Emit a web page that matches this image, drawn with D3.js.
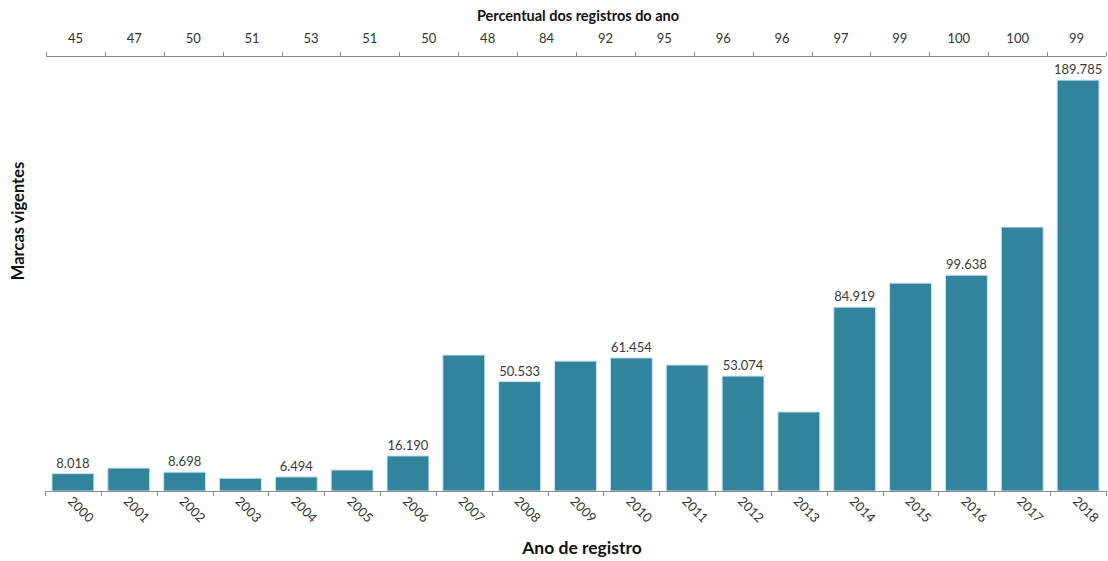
<!DOCTYPE html>
<html><head><meta charset="utf-8">
<script src="https://cdn.jsdelivr.net/npm/d3@7"></script>
<style>body{margin:0;background:#fff;} svg{display:block;font-family:Lato,"Open Sans",sans-serif;}</style>
</head><body>
<svg id="c" width="1108" height="561"></svg>
<script>
const years = ["2000","2001","2002","2003","2004","2005","2006","2007","2008","2009","2010","2011","2012","2013","2014","2015","2016","2017","2018"];
const marcas = [8018,10600,8698,5900,6494,9700,16190,62800,50533,60000,61454,58200,53074,36500,84919,96000,99638,121900,189785];
const labeled = [true,false,true,false,true,false,true,false,true,false,true,false,true,false,true,false,true,false,true];
const percentual = ["45","47","50","51","53","51","50","48","84","92","95","96","96","97","99","100","100","99"];

const svg = d3.select("#c");
const left = 45, right = 1106, base = 491, topY = 58;
const x = d3.scaleBand().domain(years).range([left, right]).paddingInner(0.25).paddingOuter(0.125);
const y = d3.scaleLinear().domain([0, 200000]).range([base, topY]);
const xt = d3.scaleBand().domain(d3.range(percentual.length)).range([46, 1106]);
const fmt = v => d3.format(",")(v).replace(/,/g, ".");
const bounds = d3.range(years.length + 1).map(i => left + i * (right - left) / years.length);
const tbounds = d3.range(percentual.length + 1).map(i => xt.range()[0] + i * xt.step());

// bars
svg.append("g").selectAll("rect").data(years).join("rect")
  .attr("x", d => x(d)).attr("width", x.bandwidth())
  .attr("y", (d,i) => y(marcas[i])).attr("height", (d,i) => y(0) - y(marcas[i]))
  .attr("fill", "#31849b").attr("stroke", "#c9e3ec").attr("stroke-width", 1);

// value labels
svg.append("g").selectAll("text").data(years.filter((d,i)=>labeled[i])).join("text")
  .attr("x", d => x(d) + x.bandwidth()/2)
  .attr("y", d => y(marcas[years.indexOf(d)]) - 6)
  .attr("text-anchor","middle").attr("font-size", 13).attr("fill","#3a3a3a")
  .text(d => fmt(marcas[years.indexOf(d)]));

// bottom axis
const gb = svg.append("g");
gb.append("line").attr("x1", left).attr("x2", right).attr("y1", base+0.5).attr("y2", base+0.5).attr("stroke","#8c8c8c");
gb.selectAll("line.t").data(bounds).join("line").attr("class","t")
  .attr("x1", d=>Math.round(d)+0.5).attr("x2", d=>Math.round(d)+0.5).attr("y1", base).attr("y2", base+5).attr("stroke","#8c8c8c");
gb.selectAll("text").data(years).join("text")
  .attr("transform", d => `translate(${x(d)+x.bandwidth()/2-6},${base+11}) rotate(45)`)
  .attr("font-size", 13).attr("fill","#333")
  .text(d => d);

// top axis
const topLine = 56;
const gt = svg.append("g");
gt.append("line").attr("x1", 46).attr("x2", right).attr("y1", topLine+0.5).attr("y2", topLine+0.5).attr("stroke","#8c8c8c");
gt.selectAll("line.t").data(tbounds).join("line").attr("class","t")
  .attr("x1", d=>Math.round(d)+0.5).attr("x2", d=>Math.round(d)+0.5).attr("y1", topLine-4).attr("y2", topLine).attr("stroke","#8c8c8c");
gt.selectAll("text").data(percentual).join("text")
  .attr("x", (d,i) => xt(i) + xt.bandwidth()/2).attr("y", 43)
  .attr("text-anchor","middle").attr("font-size", 13).attr("fill","#333")
  .text(d => d);

// titles
svg.append("text").attr("x", 578).attr("y", 21).attr("text-anchor","middle")
  .attr("font-size", 14.5).attr("font-weight","bold").attr("fill","#111").text("Percentual dos registros do ano");
svg.append("text").attr("x", 582).attr("y", 554).attr("text-anchor","middle")
  .attr("font-size", 17.5).attr("font-weight","bold").attr("fill","#111").text("Ano de registro");
svg.append("text").attr("transform","translate(24,221) rotate(-90)").attr("text-anchor","middle")
  .attr("font-size", 16.5).attr("font-weight","bold").attr("fill","#111").text("Marcas vigentes");
</script>
</body></html>
